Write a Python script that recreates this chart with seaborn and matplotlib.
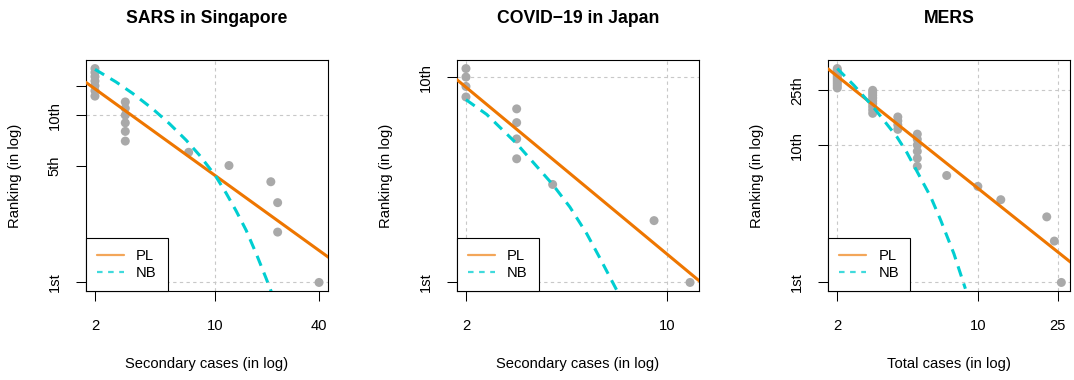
import numpy as np
import pandas as pd
import matplotlib
matplotlib.use("Agg")
import matplotlib.pyplot as plt
from matplotlib.lines import Line2D
from matplotlib.ticker import NullLocator, FixedLocator, FixedFormatter
import seaborn as sns

sns.set_style("white")
plt.rcParams['font.family'] = ['Liberation Sans', 'DejaVu Sans']
plt.rcParams['text.color'] = 'black'
plt.rcParams['axes.labelcolor'] = 'black'
plt.rcParams['xtick.color'] = 'black'
plt.rcParams['ytick.color'] = 'black'
plt.rcParams['axes.edgecolor'] = 'black'

# ---------------- data ----------------
titles = ["SARS in Singapore", "COVID\u221219 in Japan", "MERS"]
xlabels = ["Secondary cases (in log)", "Secondary cases (in log)", "Total cases (in log)"]
ylabel = "Ranking (in log)"

# SARS in Singapore
sars_cases = [40, 23, 23, 21, 12, 7, 3, 3, 3, 3, 3, 3, 2, 2, 2, 2, 2, 2, 2]
sars_rank = list(range(1, 20))
sars_pl_x = [1.7, 46.0]
sars_pl_y = [16.2, 1.40]
sars_nb_x = [2, 2.65, 3.31, 4.33, 5.41, 6.76, 8.07, 10, 11.55, 13.2, 15.1, 17.3, 19.7, 21.6]
sars_nb_y = [18.8, 15.8, 13.5, 10.9, 8.9, 7.1, 5.78, 4.35, 3.42, 2.68, 2.05, 1.48, 1.06, 0.83]
sars_xticks = [2, 10, 40]
sars_yticks = [1, 5, 10, 15]
sars_ytick_labels = ["1st", "5th", "10th", ""]
sars_vgrid = [10]
sars_hgrid = [1, 10]

# COVID-19 in Japan
cov_cases = [12, 9, 4, 3, 3, 3, 3, 2, 2, 2, 2]
cov_rank = list(range(1, 12))
cov_pl_x = [1.8, 13.5]
cov_pl_y = [10.09, 0.967]
cov_nb_x = [2, 2.36, 3.0, 4.0, 4.59, 5.25, 5.81, 6.67]
cov_nb_y = [7.76, 6.58, 4.74, 3.0, 2.33, 1.73, 1.33, 0.92]
cov_xticks = [2, 10]
cov_yticks = [1, 10]
cov_ytick_labels = ["1st", "10th"]
cov_vgrid = [2, 10]
cov_hgrid = [1, 10]

# MERS
mers_cases = ([26, 24, 22, 13, 10, 7] + [5] * 6 + [4] * 4 + [3] * 9 + [2] * 11)
mers_rank = list(range(1, 37))
mers_pl_x = [1.8, 30.0]
mers_pl_y = [35.8, 1.345]
mers_nb_x = [2, 2.42, 3.02, 3.96, 4.44, 5.19, 5.83, 6.52, 7.6, 8.67]
mers_nb_y = [36, 27.2, 18.9, 11.45, 8.8, 5.75, 4.19, 2.86, 1.62, 0.90]
mers_xticks = [2, 10, 25]
mers_yticks = [1, 10, 25]
mers_ytick_labels = ["1st", "10th", "25th"]
mers_vgrid = [2, 10, 25]
mers_hgrid = [1, 10, 25]

panels = [
    (sars_cases, sars_rank, sars_pl_x, sars_pl_y, sars_nb_x, sars_nb_y,
     sars_xticks, sars_yticks, sars_ytick_labels, sars_vgrid, sars_hgrid),
    (cov_cases, cov_rank, cov_pl_x, cov_pl_y, cov_nb_x, cov_nb_y,
     cov_xticks, cov_yticks, cov_ytick_labels, cov_vgrid, cov_hgrid),
    (mers_cases, mers_rank, mers_pl_x, mers_pl_y, mers_nb_x, mers_nb_y,
     mers_xticks, mers_yticks, mers_ytick_labels, mers_vgrid, mers_hgrid),
]

# ---------------- style ----------------
ORANGE = "#EE7600"
CYAN = "#00CED1"
POINT = "#A9A9A9"
GRID = "#C8C8C8"
FS_TICK = 10.6
FS_TITLE = 12.7

W, H = 1074, 380
lefts = [86, 457, 828.3]
right_w = 242
top_px, bottom_px = 60, 291


def rlim(vals):
    lo, hi = np.log10(min(vals)), np.log10(max(vals))
    d = (hi - lo) * 0.04
    return 10 ** (lo - d), 10 ** (hi + d)


fig = plt.figure(figsize=(W / 100, H / 100), dpi=100)

for i, (cases, rank, plx, ply, nbx, nby, xt, yt, ytl, vg, hg) in enumerate(panels):
    ax = fig.add_axes([lefts[i] / W, (H - bottom_px) / H, right_w / W, (bottom_px - top_px) / H])
    ax.set_xscale("log")
    ax.set_yscale("log")

    for v in vg:
        ax.axvline(v, color=GRID, ls=(0, (3, 3)), lw=0.8, zorder=1)
    for h in hg:
        ax.axhline(h, color=GRID, ls=(0, (3, 3)), lw=0.8, zorder=1)

    df = pd.DataFrame({"cases": cases, "rank": rank})
    sns.scatterplot(data=df, x="cases", y="rank", ax=ax, color=POINT, s=42,
                    edgecolor="none", linewidth=0, zorder=2, legend=False)
    sns.lineplot(x=plx, y=ply, ax=ax, color=ORANGE, lw=2.2, estimator=None,
                 sort=False, zorder=3, legend=False)
    sns.lineplot(x=nbx, y=nby, ax=ax, color=CYAN, lw=2.2, estimator=None,
                 sort=False, zorder=4, legend=False, linestyle=(0, (3.5, 2.4)))

    ax.set_xlim(*rlim(cases))
    ax.set_ylim(*rlim(rank))

    ax.xaxis.set_major_locator(FixedLocator(xt))
    ax.xaxis.set_major_formatter(FixedFormatter([str(t) for t in xt]))
    ax.xaxis.set_minor_locator(NullLocator())
    ax.yaxis.set_major_locator(FixedLocator(yt))
    ax.yaxis.set_major_formatter(FixedFormatter(ytl))
    ax.yaxis.set_minor_locator(NullLocator())

    ax.tick_params(axis="both", which="major", direction="out", length=7.2, width=0.75,
                   color="black", labelsize=FS_TICK, labelcolor="black",
                   bottom=True, left=True)
    ax.tick_params(axis="x", pad=13)
    ax.tick_params(axis="y", pad=10.3)
    for lab in ax.get_yticklabels():
        lab.set_rotation(90)
        lab.set_va("center")

    for sp in ax.spines.values():
        sp.set_visible(True)
        sp.set_color("black")
        sp.set_linewidth(0.8)

    ax.set_title(titles[i], fontsize=FS_TITLE, fontweight="bold", pad=26.9, color="black")
    ax.set_xlabel(xlabels[i], fontsize=FS_TICK, color="black")
    ax.xaxis.set_label_coords(0.5, -0.286)
    ax.set_ylabel(ylabel, fontsize=FS_TICK, color="black")
    ax.yaxis.set_label_coords(-0.266, 0.5)

    handles = [
        Line2D([0], [0], color=ORANGE, lw=1.6, alpha=0.65),
        Line2D([0], [0], color=CYAN, lw=1.6, alpha=0.75, ls=(0, (2.5, 2.5))),
    ]
    leg = ax.legend(handles, ["PL", "NB"], loc="lower left", bbox_to_anchor=(0, 0),
                    borderaxespad=0, fontsize=FS_TICK, frameon=True, fancybox=False,
                    edgecolor="black", framealpha=1, handlelength=1.8,
                    handletextpad=0.85, borderpad=0.75, labelspacing=0.2)
    leg.get_frame().set_linewidth(0.8)
    for t in leg.get_texts():
        t.set_color("black")
    leg.set_zorder(10)

fig.savefig("out.png", dpi=100)
